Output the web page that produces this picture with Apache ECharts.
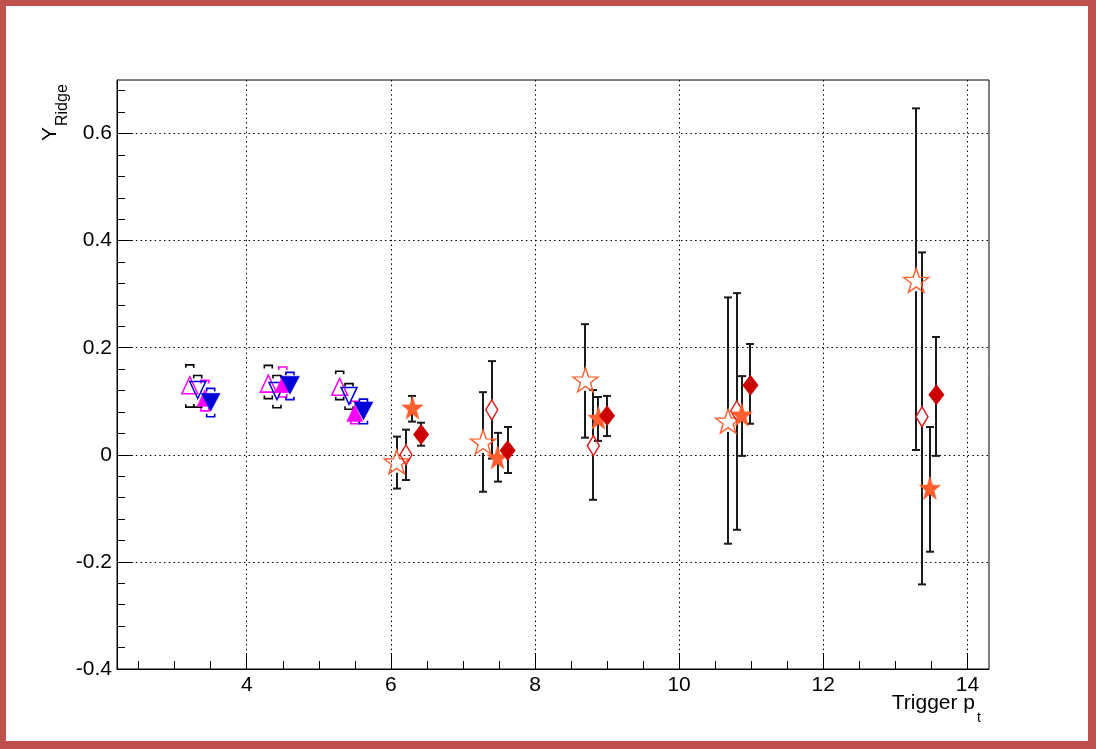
<!DOCTYPE html>
<html>
<head>
<meta charset="utf-8">
<script src="https://cdn.jsdelivr.net/npm/echarts@6/dist/echarts.min.js"></script>
<style>
html, body { margin: 0; padding: 0; background: #fff; }
#frame { position: absolute; left: 0; top: 0; width: 1096px; height: 749px; box-sizing: border-box;
  border-style: solid; border-color: #c0504d; border-width: 6px 8px 8px 6px; }
#chart { position: absolute; left: 0; top: 0; width: 1096px; height: 749px; }
</style>
</head>
<body>
<div id="frame"></div>
<div id="chart"></div>
<script>
// ---- axis ticks ----
const X_MAJOR = [4, 6, 8, 10, 12, 14];
const X_MINOR = [2.5, 3, 3.5, 4, 4.5, 5, 5.5, 6, 6.5, 7, 7.5, 8, 8.5, 9, 9.5, 10, 10.5, 11, 11.5, 12, 12.5, 13, 13.5, 14];
const Y_MAJOR = [-0.4, -0.2, 0, 0.2, 0.4, 0.6];
const Y_MINOR = [-0.36, -0.32, -0.28, -0.24, -0.2, -0.16, -0.12, -0.08, -0.04, 0, 0.04, 0.08, 0.12, 0.16, 0.2,
  0.24, 0.28, 0.32, 0.36, 0.4, 0.44, 0.48, 0.52, 0.56, 0.6, 0.64, 0.68];

// ---- low-pT series (triangles, systematic brackets) ----
const A_X = [3.21, 4.30, 5.29];          // magenta open triangle up
const A_Y = [0.130, 0.133, 0.127];
const A_SYS_LO = [0.089, 0.105, 0.103];
const A_SYS_HI = [0.168, 0.167, 0.156];

const B_X = [3.32, 4.42, 5.42];          // blue open triangle down
const B_Y = [0.121, 0.119, 0.110];
const B_SYS_LO = [0.089, 0.088, 0.085];
const B_SYS_HI = [0.148, 0.148, 0.133];

const C_X = [3.42, 4.50, 5.50];          // magenta filled triangle up
const C_Y = [0.106, 0.132, 0.078];
const C_SYS_LO = [0.082, 0.108, 0.058];
const C_SYS_HI = [0.139, 0.164, 0.100];

const D_X = [3.50, 4.60, 5.62];          // blue filled triangle down
const D_Y = [0.098, 0.130, 0.082];
const D_SYS_LO = [0.071, 0.103, 0.058];
const D_SYS_HI = [0.124, 0.154, 0.104];

// ---- high-pT series (error bars) ----
const E_X = [6.08, 7.28, 8.70, 10.68, 13.29];      // orange open star
const E_Y = [-0.013, 0.024, 0.140, 0.063, 0.326];
const E_LO = [-0.063, -0.069, 0.032, -0.166, 0.009];
const E_HI = [0.034, 0.117, 0.244, 0.294, 0.647];

const F_X = [6.21, 7.40, 8.81, 10.80, 13.37];      // red open diamond
const F_Y = [0.000, 0.084, 0.017, 0.082, 0.071];
const F_LO = [-0.047, -0.007, -0.084, -0.140, -0.242];
const F_HI = [0.047, 0.175, 0.121, 0.302, 0.378];

const G_X = [6.30, 7.48, 8.88, 10.87, 13.48];      // orange filled star
const G_Y = [0.088, -0.005, 0.069, 0.075, -0.062];
const G_LO = [0.062, -0.050, 0.026, -0.002, -0.181];
const G_HI = [0.110, 0.041, 0.108, 0.147, 0.052];

const H_X = [6.42, 7.62, 9.00, 10.99, 13.57];      // dark red filled diamond
const H_Y = [0.038, 0.008, 0.073, 0.130, 0.112];
const H_LO = [0.017, -0.034, 0.035, 0.058, -0.002];
const H_HI = [0.060, 0.052, 0.110, 0.207, 0.220];

// ---- styles ----
const FONT = 'Liberation Sans, Arial, Helvetica, sans-serif';
const MAGENTA = '#ff00ff', BLUE = '#0000d8', ORANGE = '#ff5f2e', RED = '#e01818', DARKRED = '#cc0000';
const ERR_COLOR = '#1a1a1a';
const STAR = 'path://M50 0 L61.76 33.82 L97.55 34.55 L69.02 56.18 L79.39 90.45 L50 70 L20.61 90.45 L30.98 56.18 L2.45 34.55 L38.24 33.82 Z';

function pts(xs, ys) { return xs.map((x, i) => [x, ys[i]]); }
function errs(xs, ys, lo, hi) { return xs.map((x, i) => [x, lo[i], hi[i], ys[i]]); }

function errRender(gap) {
  return function (params, api) {
    const x = api.value(0), lo = api.value(1), hi = api.value(2), y = api.value(3);
    const pt = api.coord([x, hi]), pb = api.coord([x, lo]), pm = api.coord([x, y]);
    const cx = Math.round(pt[0]);
    const w = 4;
    const st = { stroke: ERR_COLOR, lineWidth: 2 };
    const ch = [];
    if (pm[1] - gap > pt[1]) ch.push({ type: 'line', shape: { x1: cx, y1: pt[1], x2: cx, y2: pm[1] - gap }, style: st });
    if (pm[1] + gap < pb[1]) ch.push({ type: 'line', shape: { x1: cx, y1: pm[1] + gap, x2: cx, y2: pb[1] }, style: st });
    ch.push({ type: 'line', shape: { x1: cx - w, y1: pt[1], x2: cx + w, y2: pt[1] }, style: st });
    ch.push({ type: 'line', shape: { x1: cx - w, y1: pb[1], x2: cx + w, y2: pb[1] }, style: st });
    return { type: 'group', children: ch };
  };
}

function bracketRender(color) {
  return function (params, api) {
    const x = api.value(0), lo = api.value(1), hi = api.value(2);
    const pt = api.coord([x, hi]), pb = api.coord([x, lo]);
    const cx = pt[0], w = 4, h = 3;
    const st = { stroke: color, lineWidth: 1.6, fill: null };
    return {
      type: 'group', children: [
        { type: 'polyline', shape: { points: [[cx - w, pt[1] + h], [cx - w, pt[1]], [cx + w, pt[1]], [cx + w, pt[1] + h]] }, style: st },
        { type: 'polyline', shape: { points: [[cx - w, pb[1] - h], [cx - w, pb[1]], [cx + w, pb[1]], [cx + w, pb[1] - h]] }, style: st }
      ]
    };
  };
}

function errSeries(data, gap) {
  return { type: 'custom', renderItem: errRender(gap), data: data, encode: { x: 0, y: [1, 2] }, z: 2, silent: true, clip: false };
}
function bracketSeries(data, color) {
  return { type: 'custom', renderItem: bracketRender(color), data: data, encode: { x: 0, y: [1, 2] }, z: 2, silent: true, clip: false };
}
function markSeries(data, symbol, size, rotate, fill, border, bw, z) {
  return {
    type: 'scatter', data: data, symbol: symbol, symbolSize: size, symbolRotate: rotate, z: z || 3, silent: true,
    itemStyle: { color: fill, borderColor: border, borderWidth: bw, opacity: 1 }
  };
}
const NONE = 'rgba(0,0,0,0)';

const chart = echarts.init(document.getElementById('chart'), null, { renderer: 'canvas' });
const axisText = { fontFamily: FONT, fontSize: 21, color: '#000' };
const dotted = { color: '#000', width: 1, type: [1.5, 3.2] };

chart.setOption({
  animation: false,
  backgroundColor: 'transparent',
  grid: { left: 117, top: 80, width: 872, height: 589, show: true, borderColor: '#000', borderWidth: 1, backgroundColor: NONE },
  xAxis: [
    {
      type: 'value', min: 2.2, max: 14.3, position: 'bottom',
      axisLine: { show: true, onZero: false, lineStyle: { color: '#000', width: 1 } },
      axisTick: { show: true, inside: true, length: 16, customValues: X_MAJOR, lineStyle: { color: '#000', width: 1 } },
      axisLabel: { show: true, customValues: X_MAJOR, margin: 6, ...axisText },
      splitLine: { show: true, lineStyle: dotted }
    },
    {
      type: 'value', min: 2.2, max: 14.3, position: 'bottom',
      axisLine: { show: false, onZero: false },
      axisTick: { show: true, inside: true, length: 8, customValues: X_MINOR, lineStyle: { color: '#000', width: 1 } },
      axisLabel: { show: false },
      splitLine: { show: false }
    }
  ],
  yAxis: [
    {
      type: 'value', min: -0.4, max: 0.7, position: 'left',
      axisLine: { show: true, onZero: false, lineStyle: { color: '#000', width: 1 } },
      axisTick: { show: true, inside: true, length: 16, customValues: Y_MAJOR, lineStyle: { color: '#000', width: 1 } },
      axisLabel: { show: true, customValues: Y_MAJOR, margin: 5, ...axisText },
      splitLine: { show: true, lineStyle: dotted }
    },
    {
      type: 'value', min: -0.4, max: 0.7, position: 'left',
      axisLine: { show: false, onZero: false },
      axisTick: { show: true, inside: true, length: 8, customValues: Y_MINOR, lineStyle: { color: '#000', width: 1 } },
      axisLabel: { show: false },
      splitLine: { show: false }
    }
  ],
  graphic: [
    { type: 'text', x: 975, y: 693, style: { text: 'Trigger p', font: '21px ' + FONT, fill: '#000', textAlign: 'right', textVerticalAlign: 'top' } },
    { type: 'text', x: 977, y: 711, style: { text: 't', font: '14px ' + FONT, fill: '#000', textAlign: 'left', textVerticalAlign: 'top' } },
    { type: 'text', x: 50, y: 141, rotation: Math.PI / 2, style: { text: 'Y', font: '21px ' + FONT, fill: '#000', textAlign: 'left', textVerticalAlign: 'middle' } },
    { type: 'text', x: 63, y: 126, rotation: Math.PI / 2, style: { text: 'Ridge', font: '16px ' + FONT, fill: '#000', textAlign: 'left', textVerticalAlign: 'middle' } }
  ],
  series: [
    bracketSeries(errs(A_X, A_Y, A_SYS_LO, A_SYS_HI), '#000'),
    bracketSeries(errs(B_X, B_Y, B_SYS_LO, B_SYS_HI), '#000'),
    bracketSeries(errs(C_X, C_Y, C_SYS_LO, C_SYS_HI), MAGENTA),
    bracketSeries(errs(D_X, D_Y, D_SYS_LO, D_SYS_HI), BLUE),
    markSeries(pts(A_X, A_Y), 'triangle', [16, 17], 0, NONE, MAGENTA, 1.5),
    markSeries(pts(B_X, B_Y), 'triangle', [16, 17], 180, NONE, BLUE, 1.5),
    markSeries(pts(C_X, C_Y), 'triangle', [16, 17], 0, MAGENTA, MAGENTA, 0.5, 4),
    markSeries(pts(D_X, D_Y), 'triangle', [19, 18], 180, BLUE, BLUE, 0.5, 4),

    errSeries(errs(E_X, E_Y, E_LO, E_HI), 11),
    errSeries(errs(F_X, F_Y, F_LO, F_HI), 10),
    errSeries(errs(G_X, G_Y, G_LO, G_HI), 0),
    errSeries(errs(H_X, H_Y, H_LO, H_HI), 0),
    markSeries(pts(E_X, E_Y), STAR, [25, 24], 0, NONE, ORANGE, 1.4),
    markSeries(pts(F_X, F_Y), 'diamond', [12, 20], 0, NONE, RED, 1.5),
    markSeries(pts(G_X, G_Y), STAR, [21, 23], 0, ORANGE, ORANGE, 0.5, 4),
    markSeries(pts(H_X, H_Y), 'diamond', [13, 17], 0, DARKRED, DARKRED, 2.5, 4)
  ]
});
</script>
</body>
</html>
